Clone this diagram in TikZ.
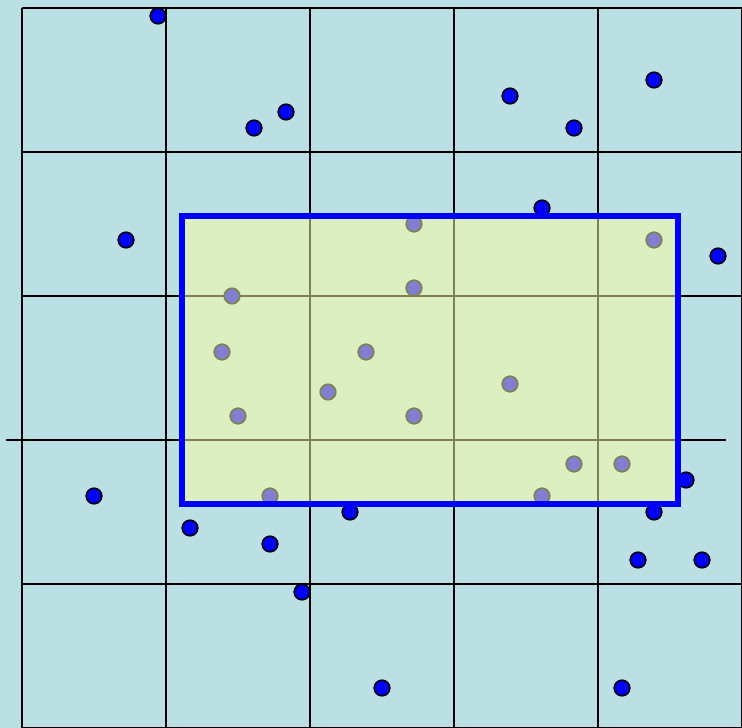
\documentclass[tikz,border=0pt]{standalone}
\definecolor{bgcol}{RGB}{186,224,227}
\definecolor{winfill}{RGB}{255,255,160}
\tikzset{
  gridline/.style={black,line width=1.6pt},
  dot/.style={fill=blue,draw=black,line width=1.6pt},
  window/.style={draw=blue,line width=6pt,fill=winfill,fill opacity=0.5}
}
\begin{document}
\begin{tikzpicture}[x=1pt,y=-1pt]
\useasboundingbox (0,0) rectangle (742,728);
\fill[bgcol] (0,0) rectangle (742,728);
% grid
\foreach \x in {22,166,310,454,598,742} \draw[gridline] (\x,8) -- (\x,728);
\foreach \y in {8,152,296,584,728} \draw[gridline] (22,\y) -- (742,\y);
\draw[gridline] (6,440) -- (726,440);
% points
\foreach \px/\py in {158/16,254/128,286/112,510/96,574/128,654/80,126/240,542/208,718/256,686/480,94/496,190/528,270/544,350/512,654/512,638/560,702/560,302/592,382/688,622/688,414/224,654/240,232/296,414/288,222/352,366/352,328/392,510/384,238/416,414/416,574/464,622/464,270/496,542/496}
  \filldraw[dot] (\px,\py) circle (7.8);
% query window
\filldraw[window] (182,216) rectangle (678,504);
\end{tikzpicture}
\end{document}
